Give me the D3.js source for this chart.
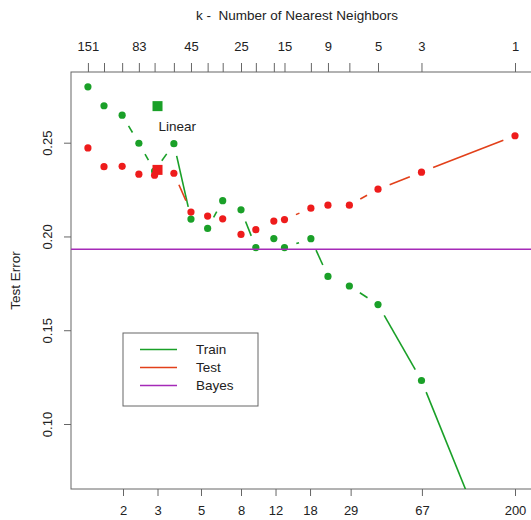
<!DOCTYPE html>
<html>
<head>
<meta charset="utf-8">
<script src="https://cdn.jsdelivr.net/npm/d3@7"></script>
<style>
  html, body { margin: 0; padding: 0; background: #fff; }
  svg { display: block; font-family: "Liberation Sans", Arial, Helvetica, sans-serif; }
</style>
</head>
<body>
<svg id="chart" width="531" height="520"></svg>
<script>
// k-nearest-neighbour misclassification curves, N = 200 training points
const N = 200;
const kValues  = [151, 125, 101, 83, 69, 55, 45, 37, 31, 25, 21, 17, 15, 11, 9, 7, 5, 3, 1];
const trainErr = [0.2798, 0.2697, 0.2647, 0.2497, 0.2349, 0.2495, 0.2093, 0.2043, 0.2191, 0.2142,
                  0.1941, 0.1989, 0.1941, 0.1988, 0.1787, 0.1736, 0.1637, 0.1232, 0.0];
const testErr  = [0.2472, 0.2372, 0.2374, 0.2332, 0.2327, 0.2337, 0.2130, 0.2109, 0.2094, 0.2011,
                  0.2036, 0.2082, 0.2090, 0.2151, 0.2167, 0.2167, 0.2252, 0.2343, 0.2537];
const bayesErr = 0.1932;
// linear regression fit: 3 degrees of freedom
const linearDf = 3;
const linearTrain = 0.2695;
const linearTest = 0.2355;

const dfTicks = [2, 3, 5, 8, 12, 18, 29, 67, 200];
const kLabelled = [151, 83, 45, 25, 15, 9, 5, 3, 1];
const yTicks = [0.10, 0.15, 0.20, 0.25];

const legendItems = ["Train", "Test", "Bayes"];

const GREEN = "#1aa028";
const RED = "#ee1c1c";
const RED_LINE = "#e2401a";
const PURPLE = "#a52ab8";
const AXIS = "#666";

const svg = d3.select("#chart");
const plot = { left: 71, top: 72, right: 548, bottom: 489 };

const x = d3.scaleLog().domain([2, 200]).range([123, 515]);
const y = d3.scaleLinear().domain([0.10, 0.25]).range([424, 142.7]);

// clip region = plotting box
svg.append("defs").append("clipPath").attr("id", "clip")
  .append("rect")
  .attr("x", plot.left).attr("y", plot.top)
  .attr("width", plot.right - plot.left).attr("height", plot.bottom - plot.top);

// frame
svg.append("rect")
  .attr("x", plot.left).attr("y", plot.top)
  .attr("width", plot.right - plot.left).attr("height", plot.bottom - plot.top)
  .attr("fill", "none").attr("stroke", AXIS).attr("stroke-width", 1);

// bottom axis: degrees of freedom
const bottomAxis = d3.axisBottom(x).tickValues(dfTicks).tickFormat(d3.format("d"))
  .tickSize(7).tickPadding(10);
const gb = svg.append("g").attr("transform", `translate(0,${plot.bottom})`).call(bottomAxis);

// top axis: k, placed at df = N/k
const topAxis = d3.axisTop(x).tickValues(kValues.map(k => N / k))
  .tickFormat(d => { const k = Math.round(N / d); return kLabelled.includes(k) ? String(k) : ""; })
  .tickSize(9).tickPadding(12);
const gt = svg.append("g").attr("transform", `translate(0,${plot.top})`).call(topAxis);

// left axis
const leftAxis = d3.axisLeft(y).tickValues(yTicks).tickFormat(d3.format(".2f"))
  .tickSize(7).tickPadding(6);
const gl = svg.append("g").attr("transform", `translate(${plot.left},0)`).call(leftAxis);
gl.selectAll(".tick text")
  .attr("x", null).attr("dy", null)
  .attr("text-anchor", "middle")
  .attr("transform", "translate(-19,0) rotate(-90)");

[gb, gt, gl].forEach(g => {
  g.select(".domain").remove();
  g.selectAll(".tick line").attr("stroke", AXIS);
  g.selectAll(".tick text").attr("fill", "#222").style("font-size", "13px")
    .style("font-family", "'Liberation Sans', Arial, sans-serif");
});

// titles
svg.append("text").attr("x", 297).attr("y", 20).attr("text-anchor", "middle")
  .style("font-size", "13.5px").style("white-space", "pre").attr("fill", "#222")
  .text("k -  Number of Nearest Neighbors");
svg.append("text").attr("transform", `translate(20,${(plot.top + plot.bottom) / 2}) rotate(-90)`)
  .attr("text-anchor", "middle").style("font-size", "13.5px").attr("fill", "#222").text("Test Error");

const layer = svg.append("g").attr("clip-path", "url(#clip)");

// lines drawn with a gap around each point
const GAP = 12.5;
function gappedLine(values, color) {
  const pts = kValues.map((k, i) => [x(N / k), y(values[i])]);
  const segs = [];
  for (let i = 0; i < pts.length - 1; i++) {
    const [x1, y1] = pts[i], [x2, y2] = pts[i + 1];
    const d = Math.hypot(x2 - x1, y2 - y1);
    if (d <= 2 * GAP) continue;
    const ux = (x2 - x1) / d, uy = (y2 - y1) / d;
    segs.push([x1 + ux * GAP, y1 + uy * GAP, x2 - ux * GAP, y2 - uy * GAP]);
  }
  layer.append("g").selectAll("line").data(segs).join("line")
    .attr("x1", d => d[0]).attr("y1", d => d[1]).attr("x2", d => d[2]).attr("y2", d => d[3])
    .attr("stroke", color).attr("stroke-width", 1.6);
}
gappedLine(trainErr, GREEN);
gappedLine(testErr, RED_LINE);

// points
layer.append("g").selectAll("circle").data(kValues).join("circle")
  .attr("cx", k => x(N / k)).attr("cy", (k, i) => y(trainErr[i])).attr("r", 3.6).attr("fill", GREEN);
layer.append("g").selectAll("circle").data(kValues).join("circle")
  .attr("cx", k => x(N / k)).attr("cy", (k, i) => y(testErr[i])).attr("r", 3.6).attr("fill", RED);

// Bayes error
layer.append("line")
  .attr("x1", plot.left).attr("x2", plot.right)
  .attr("y1", y(bayesErr)).attr("y2", y(bayesErr))
  .attr("stroke", PURPLE).attr("stroke-width", 1.6);

// linear regression squares
const SQ = 10;
layer.append("rect").attr("x", x(linearDf) - SQ / 2).attr("y", y(linearTrain) - SQ / 2)
  .attr("width", SQ).attr("height", SQ).attr("fill", GREEN);
layer.append("rect").attr("x", x(linearDf) - SQ / 2).attr("y", y(linearTest) - SQ / 2)
  .attr("width", SQ).attr("height", SQ).attr("fill", RED);
svg.append("text").attr("x", x(linearDf) + 1).attr("y", y(linearTrain) + 25)
  .style("font-size", "13.5px").attr("fill", "#222").text("Linear");

// legend
const lg = svg.append("g").attr("transform", "translate(123,333)");
lg.append("rect").attr("width", 135).attr("height", 73)
  .attr("fill", "#fff").attr("stroke", AXIS).attr("stroke-width", 1);
const legendColors = [GREEN, RED_LINE, PURPLE];
legendItems.forEach((name, i) => {
  const yy = 16.5 + i * 18;
  lg.append("line").attr("x1", 17).attr("x2", 54).attr("y1", yy).attr("y2", yy)
    .attr("stroke", legendColors[i]).attr("stroke-width", 1.6);
  lg.append("text").attr("x", 73).attr("y", yy + 4.5)
    .style("font-size", "13.5px").attr("fill", "#222").text(name);
});
</script>
</body>
</html>
